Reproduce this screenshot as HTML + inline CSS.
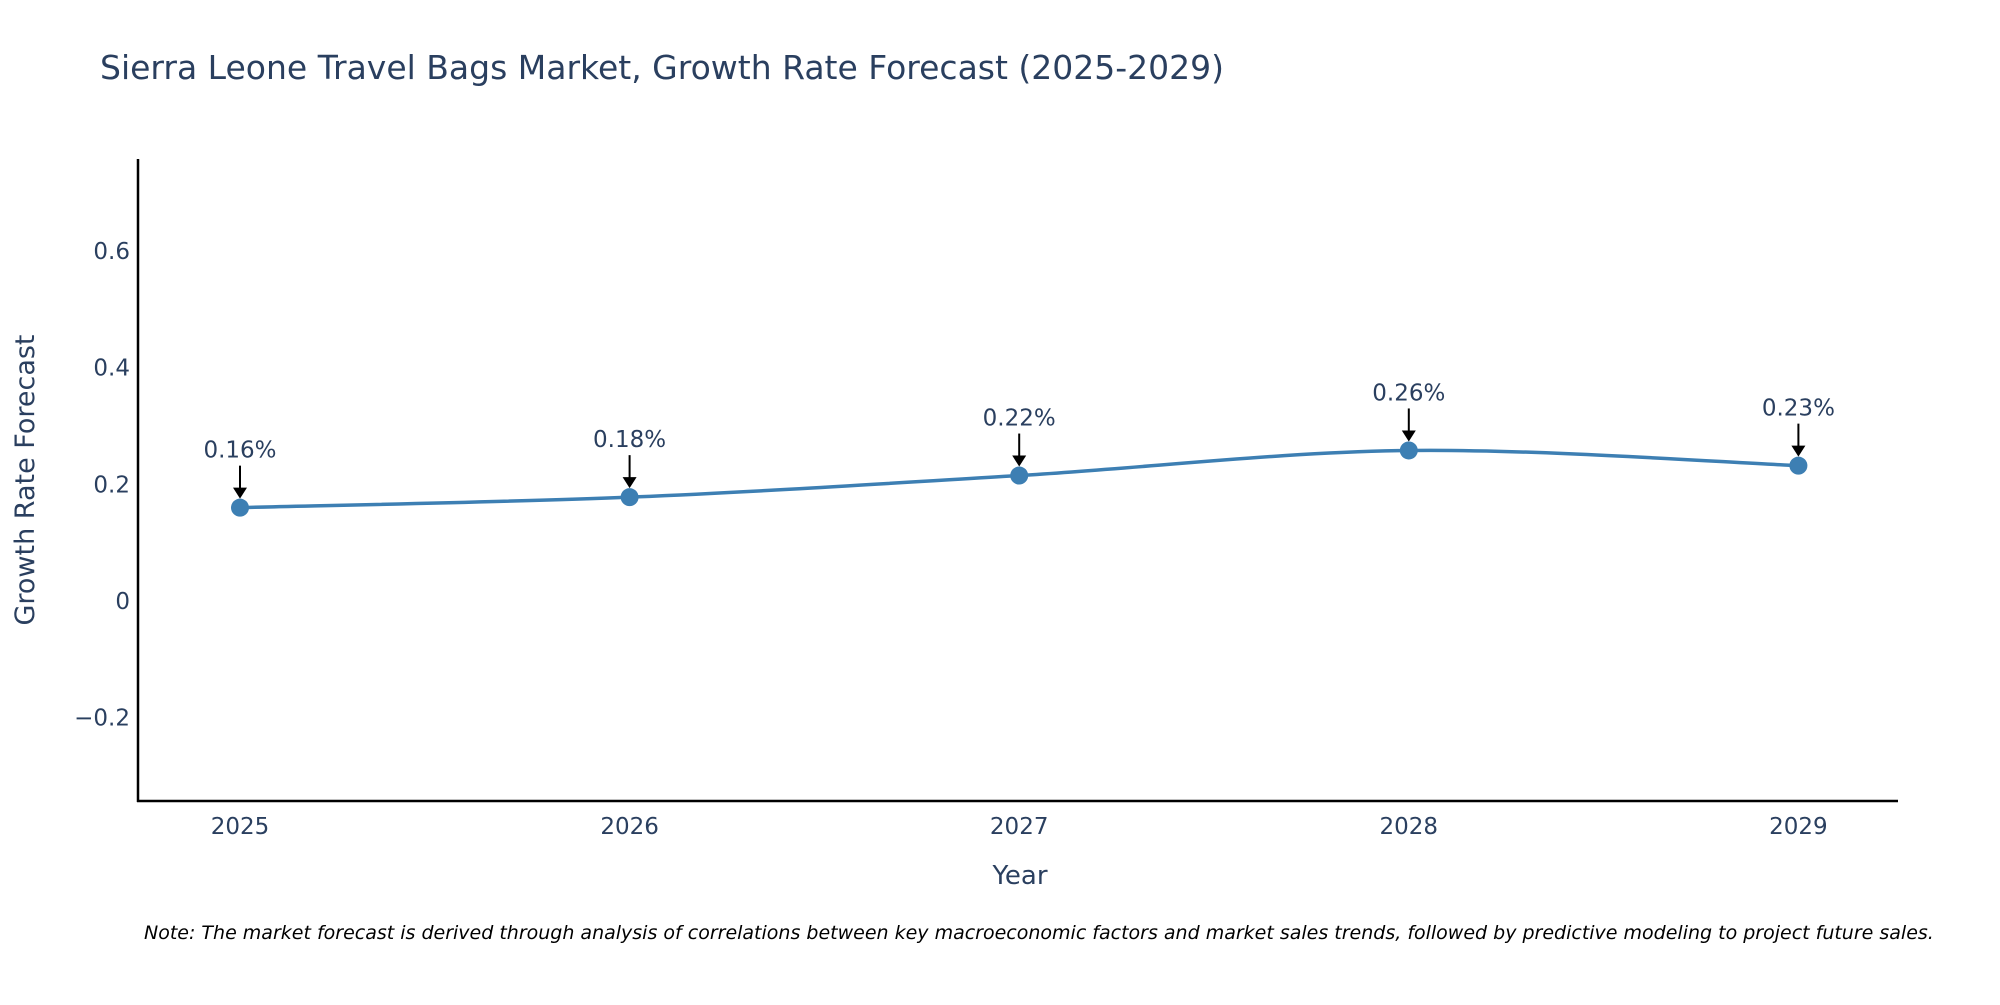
<!DOCTYPE html>
<html><head><meta charset="utf-8"><style>
body{margin:0;background:#fff;}
svg text{font-family:"DejaVu Sans","Liberation Sans",sans-serif;}
</style></head><body>
<svg id="chart" width="2000" height="1000" viewBox="0 0 2000 1000" xmlns="http://www.w3.org/2000/svg">
<rect width="2000" height="1000" fill="#fff"/>
<text x="100" y="79" font-size="33" fill="#2a3f5f">Sierra Leone Travel Bags Market, Growth Rate Forecast (2025-2029)</text>
<g id="yticks"></g>
<g id="xticks"></g>
<line x1="138" y1="159" x2="138" y2="802" stroke="#000" stroke-width="2.5"/>
<line x1="137" y1="801" x2="1898" y2="801" stroke="#000" stroke-width="2.5"/>
<path id="line" fill="none" stroke="#3d7fb3" stroke-width="3.5"/>
<g id="marks"></g>
<text x="0" y="0" transform="translate(34,480) rotate(-90)" text-anchor="middle" font-size="27" fill="#2a3f5f">Growth Rate Forecast</text>
<text x="1020" y="884" text-anchor="middle" font-size="26" fill="#2a3f5f">Year</text>
<text x="144" y="939" font-size="19" font-style="italic" fill="#000">Note: The market forecast is derived through analysis of correlations between key macroeconomic factors and market sales trends, followed by predictive modeling to project future sales.</text>
</svg>
<script>
const years = ["2025","2026","2027","2028","2029"];
const values = [0.16, 0.178, 0.215, 0.258, 0.232];
const labels = ["0.16%","0.18%","0.22%","0.26%","0.23%"];
const yTicks = [-0.2, 0, 0.2, 0.4, 0.6];
const yTickLabels = ["\u22120.2","0","0.2","0.4","0.6"];
const NS="http://www.w3.org/2000/svg";
const xs=i=>240+i*389.6;
const ys=v=>601-v*583.5;
function mk(t,a,p){const e=document.createElementNS(NS,t);for(const k in a)e.setAttribute(k,a[k]);p.appendChild(e);return e;}
const yg=document.getElementById('yticks');
yTicks.forEach((t,i)=>{const e=mk('text',{x:130,y:ys(t)+8,'text-anchor':'end','font-size':23,fill:'#2a3f5f'},yg);e.textContent=yTickLabels[i];

});
const xg=document.getElementById('xticks');
years.forEach((y,i)=>{const e=mk('text',{x:xs(i),y:834,'text-anchor':'middle','font-size':23,fill:'#2a3f5f'},xg);e.textContent=y;

});
const pts=values.map((v,i)=>[xs(i),ys(v)]);
let d=`M${pts[0][0]},${pts[0][1]}`;
for(let i=0;i<pts.length-1;i++){const p0=pts[Math.max(0,i-1)],p1=pts[i],p2=pts[i+1],p3=pts[Math.min(pts.length-1,i+2)];
const c1=[p1[0]+(p2[0]-p0[0])/6,p1[1]+(p2[1]-p0[1])/6],c2=[p2[0]-(p3[0]-p1[0])/6,p2[1]-(p3[1]-p1[1])/6];
d+=` C${c1[0]},${c1[1]} ${c2[0]},${c2[1]} ${p2[0]},${p2[1]}`;}
document.getElementById('line').setAttribute('d',d);
const mg=document.getElementById('marks');
pts.forEach((p,i)=>{
const c=mk('circle',{cx:p[0],cy:p[1],r:9,fill:'#3d7fb3'},mg);


const l=mk('line',{x1:p[0],y1:p[1]-42,x2:p[0],y2:p[1]-18,stroke:'#000','stroke-width':2},mg);


const a=mk('polygon',{points:`${p[0]-7},${p[1]-20} ${p[0]+7},${p[1]-20} ${p[0]},${p[1]-9}`,fill:'#000'},mg);


const t=mk('text',{x:p[0],y:p[1]-50,'text-anchor':'middle','font-size':23,fill:'#2a3f5f'},mg);t.textContent=labels[i];


});
</script>
</body></html>
